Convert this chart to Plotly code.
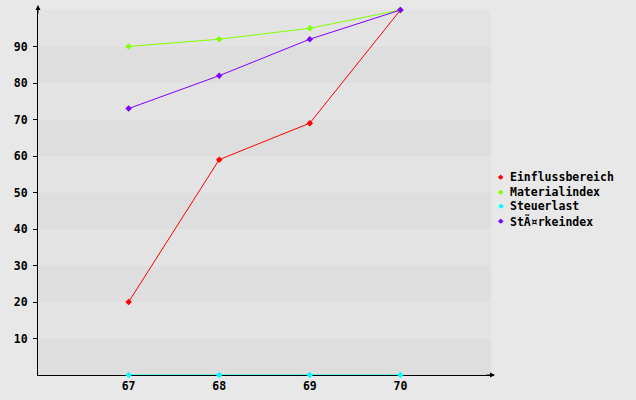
import plotly.graph_objects as go

categories = [67, 68, 69, 70]
einfluss = [20, 59, 69, 100]
material = [90, 92, 95, 100]
steuer = [0, 0, 0, 0]
staerke = [73, 82, 92, 100]
names = ["Einflussbereich", "Materialindex", "Steuerlast", "StÃ¤rkeindex"]
colors = ["#ff0000", "#80ff00", "#00ffff", "#8000ff"]
y_ticks = [10, 20, 30, 40, 50, 60, 70, 80, 90]

FONT = dict(family="DejaVu Sans Mono", size=11.5, color="#000000", weight="bold")

fig = go.Figure()
for vals, name, col in zip([einfluss, material, steuer, staerke], names, colors):
    fig.add_trace(go.Scatter(x=categories, y=vals, mode="lines+markers", name=name,
                             line=dict(color=col, width=1),
                             marker=dict(symbol="diamond", size=5, color=col),
                             showlegend=False, cliponaxis=False))

shapes = []
for i in range(10):
    shapes.append(dict(type="rect", xref="paper", yref="y", x0=0, x1=1,
                       y0=i * 10, y1=i * 10 + 10, line=dict(width=0),
                       fillcolor="#dedede" if i % 2 == 0 else "#e3e3e3", layer="below"))

annotations = [
    dict(x=0, y=1, xref="paper", yref="paper", ax=0, ay=10,
         showarrow=True, arrowhead=2, arrowsize=1, arrowwidth=1, arrowcolor="#000000", text="",
         yshift=5),
    dict(x=1, y=0, xref="paper", yref="paper", ax=-10, ay=0,
         showarrow=True, arrowhead=2, arrowsize=1, arrowwidth=1, arrowcolor="#000000", text="",
         xshift=4),
]
# legend drawn as annotations
PW, PH = 453, 365
for i, (name, col) in enumerate(zip(names, colors)):
    ypix = 177 + i * 14.7
    yp = (375 - ypix) / PH
    annotations.append(dict(x=(501 - 38) / PW, y=yp, xref="paper", yref="paper",
                            text="◆", showarrow=False, xanchor="center", yanchor="middle",
                            font=dict(family="DejaVu Sans", size=7, color=col)))
    annotations.append(dict(x=(508 - 38) / PW, y=yp, xref="paper", yref="paper",
                            text=name, showarrow=False, xanchor="left", yanchor="middle",
                            font=FONT))

fig.update_layout(
    width=636, height=400,
    margin=dict(l=38, r=145, t=10, b=25, autoexpand=False),
    paper_bgcolor="#e8e8e8", plot_bgcolor="#e3e3e3",
    font=FONT,
    shapes=shapes,
    showlegend=False,
    xaxis=dict(range=[66, 71], tickvals=categories, ticktext=[str(c) for c in categories],
               showgrid=False, zeroline=False, showline=True, linecolor="#000000",
               linewidth=1, ticks="", tickfont=FONT, automargin=False, layer="below traces"),
    yaxis=dict(range=[0, 100], tickvals=y_ticks, showgrid=False, zeroline=False,
               showline=True, linecolor="#000000", linewidth=1, ticks="outside",
               ticklen=4, tickcolor="#000000", tickfont=FONT, automargin=False,
               ticklabelstandoff=3, layer="below traces"),
    annotations=annotations,
)
fig.write_html("out.html", config={"displayModeBar": False},
               post_script="document.body.style.margin='0';document.body.style.background='#e8e8e8';")
